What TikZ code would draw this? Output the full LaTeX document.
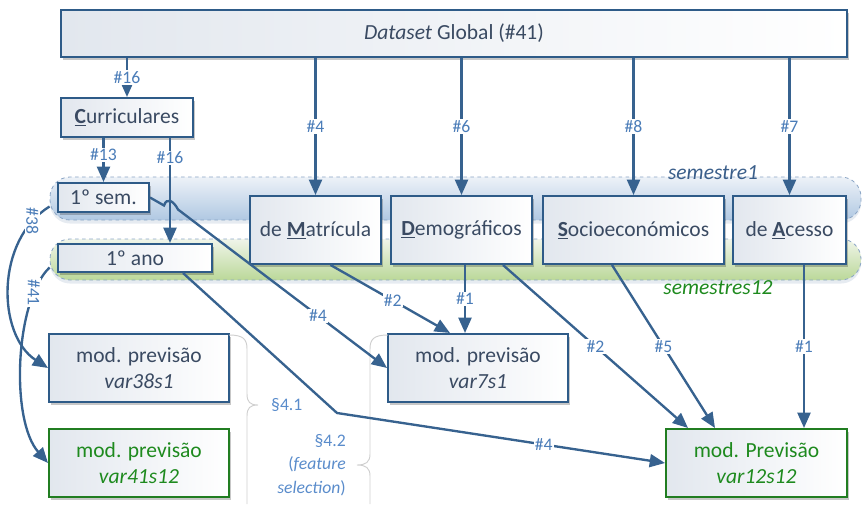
\documentclass[tikz,border=0pt]{standalone}
\usepackage{fontspec}
\setmainfont{Carlito}
\usetikzlibrary{arrows.meta,calc,shadows}
\definecolor{bord}{HTML}{2E5B88}
\definecolor{arrc}{HTML}{37628F}
\definecolor{lab}{HTML}{4A7CB8}
\definecolor{txt}{HTML}{3A4A62}
\definecolor{grn}{HTML}{217D21}
\definecolor{grntxt}{HTML}{1E8A1E}
\definecolor{brc}{HTML}{CFCFCF}
\definecolor{sec}{HTML}{5A8CCB}
\definecolor{boxl}{HTML}{E2E7EE}
\definecolor{bonetop}{HTML}{EDF2F8}
\definecolor{bonebot}{HTML}{B0C8E2}
\definecolor{btwotop}{HTML}{F0F5EA}
\definecolor{btwobot}{HTML}{BBD899}
\definecolor{banddash}{HTML}{8CA6C6}
\definecolor{semone}{HTML}{3A5E8A}
\newcommand{\pbox}[7]{\node[#1, minimum width={(#5-#3)*0.85pt}, minimum height={(#6-#4)*0.85pt}] (#2) at ({(#3+#5)/2},{(#4+#6)/2}) {#7};}
\tikzset{
  bx/.style={draw=bord, line width=1.7pt, left color=boxl, right color=white, inner sep=0pt,
    text=txt, font=\fontsize{18.3}{22.5}\selectfont, align=center,
    drop shadow={shadow xshift=2pt, shadow yshift=-2.5pt, opacity=0.22, fill=black}},
  gbx/.style={bx, draw=grn, text=grntxt},
  con/.style={draw=arrc, line width=2pt, -{Triangle[length=13pt,width=11pt]}},
  lbl/.style={fill=white, inner sep=1pt, text=lab, font=\fontsize{15}{17}\selectfont},
  bandone/.style={draw=banddash, dashed, line width=0.7pt, rounded corners=17pt, top color=bonetop, bottom color=bonebot, inner sep=0pt,
    drop shadow={shadow xshift=0pt, shadow yshift=-3pt, opacity=0.12, fill=bord}},
  bandtwo/.style={draw=banddash, dashed, line width=0.7pt, rounded corners=17pt, top color=btwotop, bottom color=btwobot, inner sep=0pt,
    drop shadow={shadow xshift=0pt, shadow yshift=-3pt, opacity=0.12, fill=bord}},
  brace/.style={draw=brc, line width=0.8pt},
  seclbl/.style={text=sec, font=\fontsize{15}{20}\selectfont, inner sep=0pt}
}
\begin{document}
\begin{tikzpicture}[x=0.85pt, y=-0.85pt]
\useasboundingbox (0,0) rectangle (863,504);
% bands
\pbox{bandone}{b1}{50}{177}{861}{220}{}
\pbox{bandtwo}{b2}{50}{239}{861}{280}{}
\node[text=semone, font=\fontsize{18.3}{22}\selectfont\itshape, anchor=base] (lsem1) at (713,179) {semestre1};
\node[text=grntxt, font=\fontsize{18.3}{22}\selectfont\itshape, anchor=base] (lsem12) at (718,294) {semestres12};
% boxes
\pbox{bx}{ds}{61}{10}{847}{57}{\textit{Dataset} Global (\#41)}
\pbox{bx}{cur}{61}{98}{193}{137}{\underline{\textbf{C}}urriculares}
\pbox{bx}{s1}{58}{183}{149}{212}{1º sem.}
\pbox{bx}{ano}{58}{244}{212}{272}{1º ano}
\pbox{bx}{dm}{250}{196}{381}{264}{de \underline{\textbf{M}}atrícula}
\pbox{bx}{dg}{391}{196}{532}{264}{\underline{\textbf{D}}emográficos}
\pbox{bx}{so}{543}{196}{724}{264}{\underline{\textbf{S}}ocioeconómicos}
\pbox{bx}{ac}{733}{196}{846}{264}{de \underline{\textbf{A}}cesso}
\pbox{bx}{v38}{49}{334}{229}{402}{mod. previsão\\\textit{var38s1}}
\pbox{gbx}{v41}{49}{429}{229}{497}{mod. previsão\\\textit{var41s12}}
\pbox{bx}{v7}{388}{334}{568}{402}{mod. previsão\\\textit{var7s1}}
\pbox{gbx}{v12}{666}{429}{847}{497}{mod. Previsão\\\textit{var12s12}}
% helper coordinates
\coordinate (cx170) at (170,0);
\coordinate (cx183) at (183,0);
\coordinate (cx465) at (465,0);
\coordinate (cx804) at (804,0);
\coordinate (bend) at (337,413);
% braces
\draw[brace] (229,335) .. controls (243,335) and (247,339) .. (247,349) -- (247,394)
  .. controls (247,402) and (250,405) .. (258,405)
  .. controls (250,405) and (247,408) .. (247,416) -- (247,504);
\draw[brace] (388,335) .. controls (374,335) and (370,339) .. (370,349) -- (370,454)
  .. controls (370,462) and (366,465) .. (357,465)
  .. controls (366,465) and (370,468) .. (370,476) -- (370,504);
\node[seclbl, anchor=west] (s41) at (271,405) {§4.1};
\node[seclbl, anchor=east, align=right] (s42) at (346,465) {§4.2\\(\textit{feature}\\\textit{selection})};
% connectors from dataset
\draw[con] (ds.south -| cur.north) -- node[lbl]{\#16} (cur.north);
\draw[con] (ds.south -| dm.north) -- node[lbl]{\#4} (dm.north);
\draw[con] (ds.south -| dg.north) -- node[lbl]{\#6} (dg.north);
\draw[con] (ds.south -| so.north) -- node[lbl]{\#8} (so.north);
\draw[con] (ds.south -| ac.north) -- node[lbl]{\#7} (ac.north);
% curriculares
\draw[con] (cur.south -| s1.north) -- node[lbl,pos=0.38]{\#13} (s1.north);
\draw[con] (cur.south -| cx170) -- node[lbl,pos=0.19]{\#16} (ano.north -| cx170);
% 1o sem -> var7s1 with hop
\draw[con] (s1.east) -- ++(14,8) .. controls +(3,-9) and +(-4,-8) .. ++(14,4) -- node[lbl,pos=0.67]{\#4} (v7.west);
% 1o ano -> var12s12
\draw[con] (ano.south -| cx183) -- (bend) -- node[lbl,pos=0.63]{\#4} (v12.west);
% categories -> models
\draw[con] ($(dm.south)+(15,0)$) -- node[lbl,pos=0.52]{\#2} ($(v7.north)+(-28,0)$);
\draw[con] (dg.south -| cx465) -- node[lbl]{\#1} (v7.north -| cx465);
\draw[con] ($(dg.south)+(41.5,0)$) -- node[lbl,pos=0.5]{\#2} ($(v12.north)+(-68.5,0)$);
\draw[con] ($(so.south)+(-21.5,0)$) -- node[lbl,pos=0.5]{\#5} ($(v12.north)+(-41.5,0)$);
\draw[con] (ac.south -| cx804) -- node[lbl]{\#1} (v12.north -| cx804);
% band curves
\draw[con] ($(b1.west)+(0,8)$) .. controls (-5,240) and (-3,335) .. node[lbl,pos=0.12,rotate=-90]{\#38} (v38.west);
\draw[con] ($(b2.west)+(0,8)$) .. controls (15,300) and (10,420) .. node[lbl,pos=0.18,rotate=-90]{\#41} (v41.west);
\end{tikzpicture}
\end{document}
